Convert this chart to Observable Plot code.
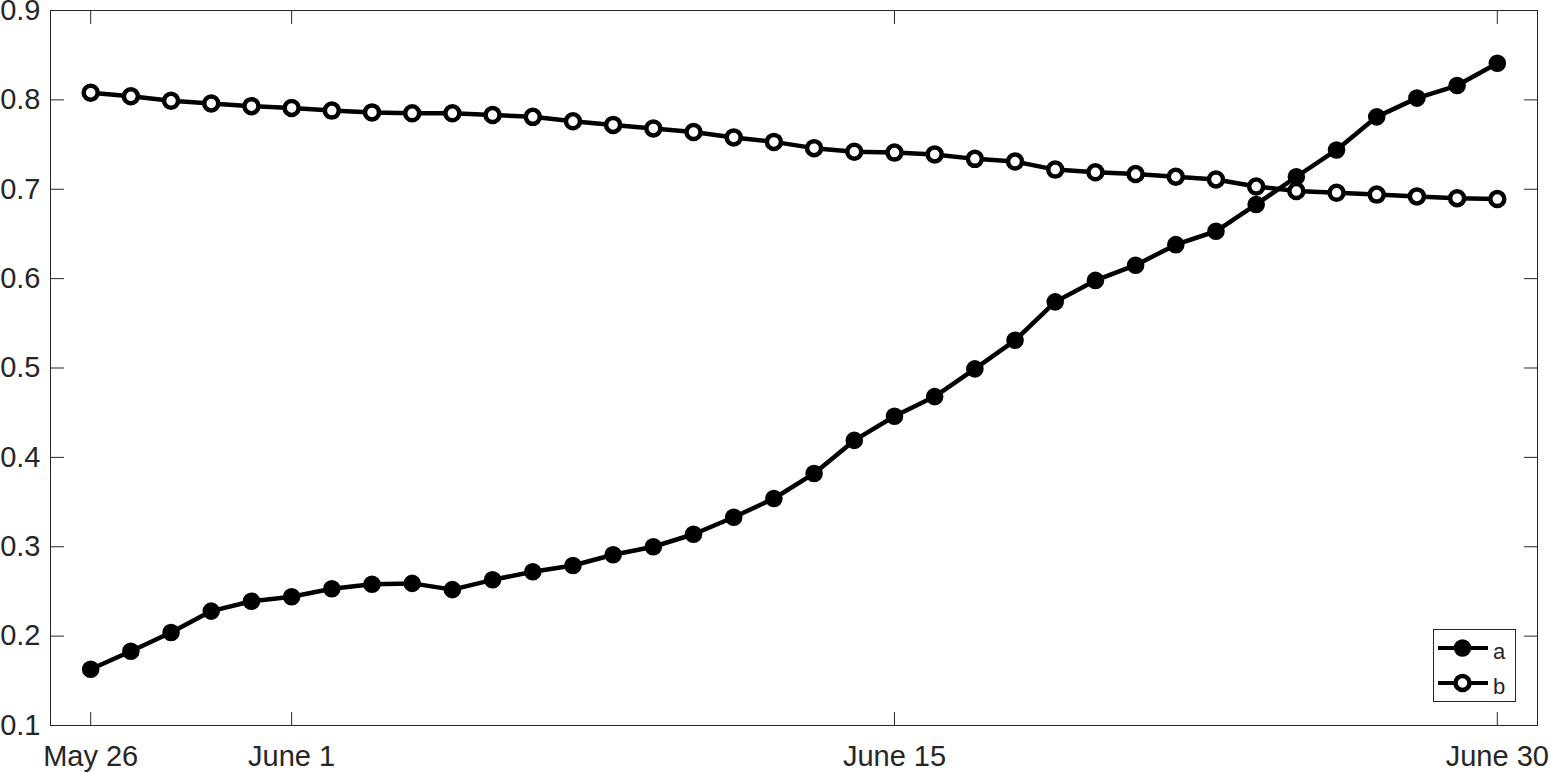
<!DOCTYPE html>
<html><head><meta charset="utf-8">
<script src="https://cdn.jsdelivr.net/npm/d3@7"></script>
<script src="https://cdn.jsdelivr.net/npm/@observablehq/plot@0.6"></script>
<style>
html,body{margin:0;padding:0;background:#fff;}
#wrap{position:relative;width:1551px;height:773px;font-family:"Liberation Sans",Arial,Helvetica,sans-serif;}
#legend{position:absolute;left:1433px;top:629px;width:83px;height:73px;box-sizing:border-box;border:1px solid #262626;background:#fff;}
#legend svg{display:block;}
</style></head><body><div id="wrap"></div>
<script>
// ---- data ----
const days = d3.range(36);
const seriesA = [0.163,0.183,0.204,0.228,0.239,0.244,0.253,0.258,0.259,0.252,0.263,0.272,0.279,0.291,0.300,0.314,0.333,0.354,0.382,0.419,0.446,0.468,0.499,0.531,0.574,0.598,0.615,0.638,0.653,0.683,0.714,0.744,0.781,0.802,0.816,0.841];
const seriesB = [0.808,0.804,0.799,0.796,0.793,0.791,0.788,0.786,0.785,0.785,0.783,0.781,0.776,0.772,0.768,0.764,0.758,0.753,0.746,0.742,0.741,0.739,0.734,0.731,0.722,0.719,0.717,0.714,0.711,0.703,0.698,0.696,0.694,0.692,0.690,0.689];
const xTickPositions = [0, 5, 20, 35];
const xTickLabels = ["May 26", "June 1", "June 15", "June 30"];
const yTicks = [0.1, 0.2, 0.3, 0.4, 0.5, 0.6, 0.7, 0.8, 0.9];
const seriesNames = ["a", "b"];
const seriesFills = ["black", "white"];

// ---- styles ----
const axisColor = "#262626";
const fontFamily = '"Liberation Sans", Arial, Helvetica, sans-serif';
const tickLen = 13;
const lineW = 4.5;
const tickShape = {draw(context, l) { context.moveTo(0, 0); context.lineTo(0, -l); }};
const tickOpts = {length: tickLen, anchor: "start", shape: tickShape, stroke: axisColor, strokeWidth: 1};
const dotA = {r: 7.3, strokeWidth: 3};
const dotB = {r: 7, strokeWidth: 4.5};

const chart = Plot.plot({
  width: 1551, height: 773,
  marginLeft: 50, marginRight: 14, marginTop: 10, marginBottom: 48,
  style: {fontFamily, background: "white", color: axisColor, overflow: "visible"},
  x: {domain: [-1, 36]},
  y: {domain: [0.1, 0.9]},
  marks: [
    Plot.axisX(xTickPositions, {anchor: "bottom", tickSize: 0, tickPadding: 20, fontSize: 29, label: null,
      tickFormat: d => xTickLabels[xTickPositions.indexOf(d)]}),
    Plot.axisY(yTicks, {anchor: "left", tickSize: 0, tickPadding: 10, fontSize: 29, label: null,
      tickFormat: d3.format(".1f")}),
    Plot.vectorX(xTickPositions, {x: d => d, frameAnchor: "bottom", rotate: 0, ...tickOpts}),
    Plot.vectorX(xTickPositions, {x: d => d, frameAnchor: "top", rotate: 180, ...tickOpts}),
    Plot.vectorY(yTicks, {y: d => d, frameAnchor: "left", rotate: 90, ...tickOpts}),
    Plot.vectorY(yTicks, {y: d => d, frameAnchor: "right", rotate: -90, ...tickOpts}),
    Plot.frame({stroke: axisColor, strokeWidth: 1}),
    Plot.line(days, {x: d => d, y: i => seriesA[i], stroke: "black", strokeWidth: lineW}),
    Plot.dot(days, {x: d => d, y: i => seriesA[i], r: dotA.r, fill: "black", stroke: "black", strokeWidth: dotA.strokeWidth}),
    Plot.line(days, {x: d => d, y: i => seriesB[i], stroke: "black", strokeWidth: lineW}),
    Plot.dot(days, {x: d => d, y: i => seriesB[i], r: dotB.r, fill: "white", stroke: "black", strokeWidth: dotB.strokeWidth})
  ]
});
document.getElementById("wrap").append(chart);

// ---- legend ----
const legend = d3.select("#wrap").append("div").attr("id", "legend");
const lsvg = legend.append("svg").attr("width", 81).attr("height", 71);
const rows = lsvg.selectAll("g").data(seriesNames).join("g")
  .attr("transform", (d, i) => `translate(0,${18 + i * 35})`);
rows.append("line").attr("x1", 4).attr("x2", 54).attr("y1", 0).attr("y2", 0)
  .attr("stroke", "black").attr("stroke-width", 4);
rows.append("circle").attr("cx", 28.5).attr("cy", 0)
  .attr("r", (d, i) => i === 0 ? dotA.r : dotB.r)
  .attr("fill", (d, i) => seriesFills[i]).attr("stroke", "black")
  .attr("stroke-width", (d, i) => i === 0 ? dotA.strokeWidth : dotB.strokeWidth);
rows.append("text").attr("x", 59).attr("y", (d, i) => i === 0 ? 11 : 11).text(d => d)
  .attr("font-size", 22).attr("fill", axisColor).attr("font-family", fontFamily);
</script>
</body></html>
